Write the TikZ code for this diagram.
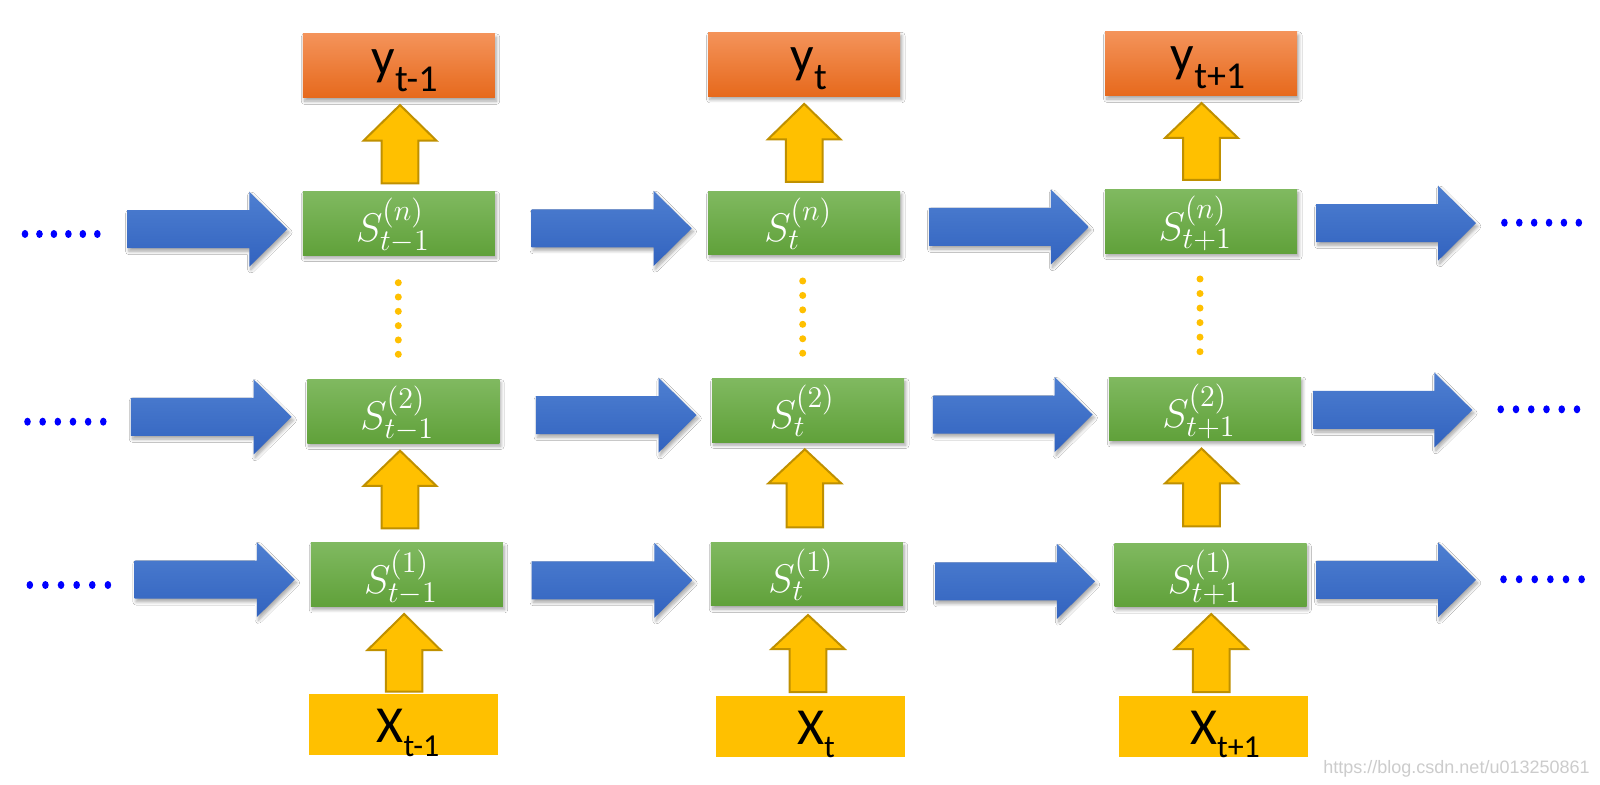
\RequirePackage{fix-cm}
\documentclass[tikz,border=0pt]{standalone}
\usepackage{fontspec}
\newfontfamily\carlito{Carlito}
\newfontfamily\wmfont{Liberation Sans}
\usetikzlibrary{shadows.blur}
\DeclareMathSizes{20}{20}{15}{11}
\definecolor{yel}{HTML}{FFC000}
\definecolor{yelline}{HTML}{BF9000}
\definecolor{ortop}{HTML}{F4935A}
\definecolor{orbot}{HTML}{E6691C}
\definecolor{grtop}{HTML}{80B960}
\definecolor{grbot}{HTML}{60A13A}
\definecolor{bltop}{HTML}{4E7FD1}
\definecolor{blbot}{HTML}{3263BF}
\definecolor{dotblue}{HTML}{0000FF}
\newcommand\barrow[3]{% xstart, ycenter, xtip
  \path[blarrow] (#1,#2-19) -- (#3-38,#2-19) -- (#3-38,#2-37.5) -- (#3,#2)
    -- (#3-38,#2+37.5) -- (#3-38,#2+19) -- (#1,#2+19) -- cycle;}
\newcommand\uarrow[4]{% cx, tip, headbase, bottom
  \path[yarrow] (#1,#2) -- (#1+36.5,#3) -- (#1+18.3,#3) -- (#1+18.3,#4)
    -- (#1-18.3,#4) -- (#1-18.3,#3) -- (#1-36.5,#3) -- cycle;}
\newcommand\bdots[3]{% xfirst, xlast, y
  \foreach \k in {0,...,5}
    \fill[dotblue] ({#1+(#2-#1)/5*\k},#3) ellipse[x radius=3.3,y radius=4];}
\newcommand\ydots[3]{% x, yfirst, ylast
  \foreach \k in {0,...,5}
    \fill[yel] (#1,{#2+(#3-#2)/5*\k}) circle[radius=3.5];}
\begin{document}
\begin{tikzpicture}[x=0.5pt,y=-0.5pt,
  shd/.style={blur shadow={shadow xshift=0.8pt,shadow yshift=-1.6pt,shadow blur radius=1.6pt,shadow blur steps=8,shadow opacity=35}},
  ybox/.style={shd,minimum width=96pt,minimum height=32pt,inner sep=0pt,top color=ortop,bottom color=orbot},
  gbox/.style={shd,minimum width=96pt,minimum height=31.75pt,inner sep=0pt,top color=grtop,bottom color=grbot},
  xbox/.style={minimum width=94.5pt,minimum height=30.5pt,inner sep=0pt,fill=yel},
  lbl/.style={anchor=base,inner sep=0pt,font=\carlito\fontsize{26}{26}\selectfont,text=black},
  stxt/.style={anchor=base,inner sep=0pt,text=white,font=\fontsize{20}{20}\selectfont},
  blarrow/.style={shd,top color=bltop,bottom color=blbot},
  yarrow/.style={fill=yel,draw=yelline,line width=1pt,line join=miter},
  wm/.style={anchor=base east,inner sep=0pt,font=\wmfont\fontsize{9}{9}\selectfont,text=black!20}]
\useasboundingbox (0,0) rectangle (1600,785);
\fill[white] (0,0) rectangle (1600,785);

% ---- blue arrows
\barrow{127.3}{229.2}{287.3}
\barrow{531.7}{228.4}{691.7}
\barrow{929.1}{227}{1088.9}
\barrow{1316.2}{223.2}{1476}
\barrow{130.9}{416.9}{291.6}
\barrow{535.8}{415.2}{696.5}
\barrow{932.8}{414.6}{1092.6}
\barrow{1313}{410}{1472.3}
\barrow{134.5}{579.6}{294.8}
\barrow{531.7}{580.3}{692.4}
\barrow{935.1}{581.4}{1094.9}
\barrow{1316.2}{579.8}{1476}

% ---- blue dots
\bdots{25}{97.3}{234}
\bdots{27.5}{103.3}{421.7}
\bdots{29.8}{107.9}{585}
\bdots{1504.4}{1578.8}{222.7}
\bdots{1500.7}{1577}{409.3}
\bdots{1503.5}{1581.6}{579.3}

% ---- yellow vertical dots
\ydots{398.3}{282.7}{354.3}
\ydots{802.7}{281}{353.2}
\ydots{1200}{279}{351.7}

% ---- output boxes
\node[ybox] (y1) at (398.9,66) {};
\node[ybox] (y2) at (804.2,64.4) {};
\node[ybox] (y3) at (1201.2,63.9) {};
\node[lbl] (ty1) at (404.5,75) {y\raisebox{-8.3pt}{\fontsize{19}{19}\selectfont t-1}};
\node[lbl] (ty2) at (808.7,73) {y\raisebox{-8.3pt}{\fontsize{19}{19}\selectfont t}};
\node[lbl] (ty3) at (1208,72) {y\raisebox{-8.3pt}{\fontsize{19}{19}\selectfont t+1}};

% ---- state boxes
\node[gbox] (sn1) at (398.9,223.3) {};
\node[gbox] (sn2) at (804.2,222.9) {};
\node[gbox] (sn3) at (1201.2,221.5) {};
\node[gbox] (sb1) at (403.3,411.3) {};
\node[gbox] (sb2) at (808.2,410.3) {};
\node[gbox] (sb3) at (1205,408.8) {};
\node[gbox] (sa1) at (406.9,574.7) {};
\node[gbox] (sa2) at (806.9,574.2) {};
\node[gbox] (sa3) at (1210.5,574.9) {};
\node[stxt] (tsn1) at (392.9,242.0) {$S^{(n)}_{t-1}$};
\node[stxt] (tsn2) at (798.2,241.6) {$S^{(n)}_{t}$};
\node[stxt] (tsn3) at (1195.2,240.2) {$S^{(n)}_{t+1}$};
\node[stxt] (tsb1) at (397.3,430.0) {$S^{(2)}_{t-1}$};
\node[stxt] (tsb2) at (802.2,429.0) {$S^{(2)}_{t}$};
\node[stxt] (tsb3) at (1199,427.5) {$S^{(2)}_{t+1}$};
\node[stxt] (tsa1) at (400.9,593.4) {$S^{(1)}_{t-1}$};
\node[stxt] (tsa2) at (800.9,592.9) {$S^{(1)}_{t}$};
\node[stxt] (tsa3) at (1204.5,593.6) {$S^{(1)}_{t+1}$};

% ---- input boxes
\node[xbox] (x1) at (403.4,724.5) {};
\node[xbox] (x2) at (810.5,726.1) {};
\node[xbox] (x3) at (1213.7,726.1) {};
\node[lbl] (tx1) at (407.9,742.7) {X\raisebox{-6.7pt}{\fontsize{16}{16}\selectfont t-1}};
\node[lbl] (tx2) at (816,744) {X\raisebox{-6.7pt}{\fontsize{16}{16}\selectfont t}};
\node[lbl] (tx3) at (1225,744) {X\raisebox{-6.7pt}{\fontsize{16}{16}\selectfont t+1}};

% ---- yellow up arrows
\uarrow{400}{105}{140.7}{183.3}
\uarrow{804.2}{103.9}{139.5}{182}
\uarrow{1201.5}{103}{138}{180}
\uarrow{400}{450.7}{486}{528.3}
\uarrow{804.8}{449.3}{483.4}{527.3}
\uarrow{1201.5}{448.5}{483.4}{526.3}
\uarrow{404.1}{614}{650}{691.7}
\uarrow{808}{615}{649}{692}
\uarrow{1211.2}{614}{649}{692}

% ---- watermark
\node[wm] (wmark) at (1590,773) {https://blog.csdn.net/u013250861};
\end{tikzpicture}
\end{document}
